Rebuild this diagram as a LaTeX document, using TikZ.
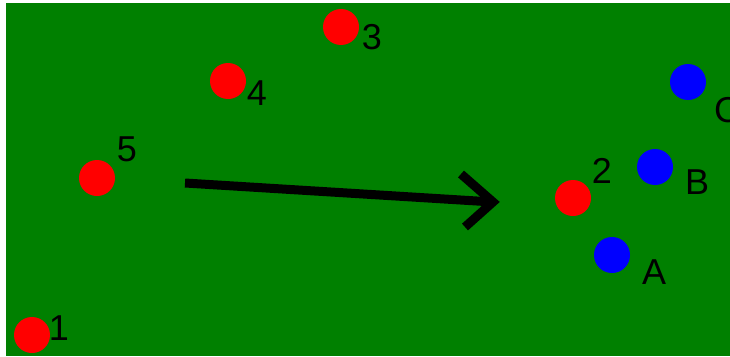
\documentclass[tikz,border=0pt]{standalone}
\usepackage{fontspec}
\setmainfont{Liberation Sans}
\begin{document}
\begin{tikzpicture}[x=1pt,y=-1pt,
  bg/.style={fill=white},
  field/.style={fill=fieldgreen},
  redpl/.style={circle,fill=red,minimum size=36pt,inner sep=0pt},
  bluepl/.style={circle,fill=blue,minimum size=36pt,inner sep=0pt},
  lbl/.style={font=\fontsize{36}{36}\selectfont,inner sep=0pt,text=black},
  arr/.style={line width=9pt,black}
]
\definecolor{fieldgreen}{RGB}{0,128,0}
\useasboundingbox (0,0) rectangle (730,356);
\fill[bg] (0,0) rectangle (730,356);
\fill[field] (6,3) rectangle (730,356);
\begin{scope}
\clip (0,0) rectangle (730,356);
% players
\node[redpl] (p1) at (32,335) {};
\node[redpl] (p2) at (573,198) {};
\node[redpl] (p3) at (341,27) {};
\node[redpl] (p4) at (228,81) {};
\node[redpl] (p5) at (97,178) {};
\node[bluepl] (pA) at (612,255) {};
\node[bluepl] (pB) at (655,167) {};
\node[bluepl] (pC) at (688,82) {};
% labels
\node[lbl] (l1) at (59,328) {1};
\node[lbl] (l2) at (602,171) {2};
\node[lbl] (l3) at (372,37) {3};
\node[lbl] (l4) at (257,93) {4};
\node[lbl] (l5) at (127,149) {5};
\node[lbl] (lA) at (654,272) {A};
\node[lbl] (lB) at (697,182) {B};
\node[lbl] (lC) at (727,110) {C};
% arrow
\coordinate (s) at (185,183);
\coordinate (t) at (493,202);
\coordinate (h1) at (461,174);
\coordinate (h2) at (465,227);
\draw[arr] (s) -- (t);
\draw[arr,line join=miter] (h1) -- (t) -- (h2);
\end{scope}
\end{tikzpicture}
\end{document}
